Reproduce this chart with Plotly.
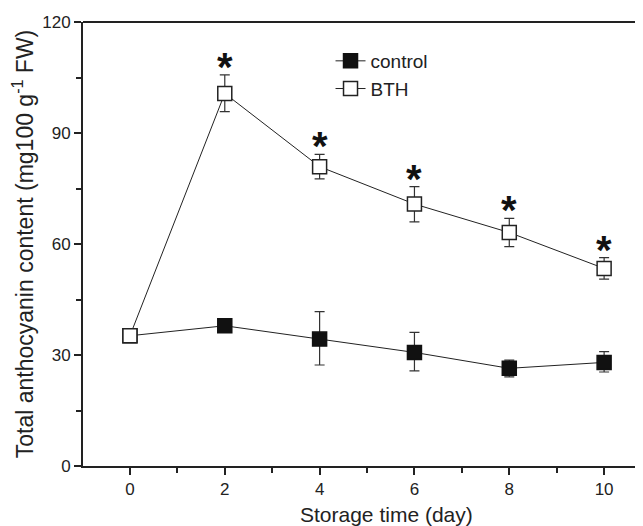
import plotly.graph_objects as go

days = [0, 2, 4, 6, 8, 10]
control = [35.2, 37.9, 34.3, 30.7, 26.4, 28.0]
control_err_up = [0.8, 1.0, 7.4, 5.4, 2.2, 2.9]
control_err_down = [0.8, 1.0, 7.0, 5.0, 2.3, 2.6]
bth = [35.2, 100.7, 80.9, 70.8, 63.1, 53.4]
bth_err_up = [0.8, 5.0, 3.3, 4.7, 3.8, 2.9]
bth_err_down = [0.8, 4.9, 3.3, 4.8, 3.8, 2.9]
signif_days = [2, 4, 6, 8, 10]

NARROW = "Liberation Sans Narrow, Liberation Sans, Arial, sans-serif"
REG = "Liberation Sans, Arial, sans-serif"

fig = go.Figure()
fig.add_trace(go.Scatter(
    x=days, y=control, name="control", mode="lines+markers",
    line=dict(color="#222222", width=1),
    marker=dict(symbol="square", size=14, color="#111111",
                line=dict(color="#111111", width=1.5)),
    error_y=dict(type="data", array=control_err_up, arrayminus=control_err_down,
                 color="#333333", thickness=1.2, width=5),
))
fig.add_trace(go.Scatter(
    x=days, y=bth, name="BTH", mode="lines+markers",
    line=dict(color="#222222", width=1),
    marker=dict(symbol="square", size=14, color="white",
                line=dict(color="#222222", width=1.5)),
    error_y=dict(type="data", array=bth_err_up, arrayminus=bth_err_down,
                 color="#333333", thickness=1.2, width=5),
))

for d in signif_days:
    i = days.index(d)
    fig.add_annotation(x=d, y=bth[i] + bth_err_up[i], text="<b>*</b>",
                       showarrow=False, yanchor="bottom", yshift=-16,
                       font=dict(size=40, color="#111111", family=REG))

fig.add_annotation(x=5.4, xref="x", y=0, yref="paper", yanchor="top", yshift=-35,
                   text="Storage time (day)", showarrow=False,
                   font=dict(size=21, family=NARROW, color="#222222"))

# page body has an 8px margin, so margins are compensated
fig.update_layout(
    width=643, height=526,
    margin=dict(l=75, r=8, t=14, b=68),
    paper_bgcolor="white", plot_bgcolor="white",
    font=dict(family=NARROW, color="#222222", size=17),
    showlegend=True,
    legend=dict(x=0.442, y=0.955, xanchor="left", yanchor="top",
                bgcolor="rgba(0,0,0,0)", font=dict(size=19, family=REG),
                itemwidth=30, tracegroupgap=0),
    xaxis=dict(
        range=[-0.99, 10.82], tickmode="array", tickvals=days,
        ticktext=[str(d) for d in days],
        showline=True, linecolor="#222222", linewidth=2, mirror=False,
        ticks="outside", ticklen=7, tickwidth=1.5, tickcolor="#222222",
        minor=dict(dtick=1, tick0=0, ticks="outside", ticklen=5, tickwidth=1.5, tickcolor="#222222"),
        showgrid=False, zeroline=False, automargin=False,
        tickfont=dict(size=17),
    ),
    yaxis=dict(
        range=[0, 120], tickvals=[0, 30, 60, 90, 120],
        showline=True, linecolor="#222222", linewidth=2, mirror=False,
        ticks="outside", ticklen=7, tickwidth=1.5, tickcolor="#222222",
        minor=dict(dtick=15, tick0=0, ticks="outside", ticklen=5, tickwidth=1.5, tickcolor="#222222"),
        showgrid=False, zeroline=False, automargin=False,
        title=dict(text="Total anthocyanin content (mg100 g<sup>-1</sup> FW)",
                   font=dict(size=23, family=REG), standoff=6),
        tickfont=dict(size=17),
    ),
)
fig.add_shape(type="line", xref="paper", yref="paper", x0=0, x1=1, y0=1, y1=1,
              line=dict(color="#222222", width=2))

fig.write_html("out.html")
